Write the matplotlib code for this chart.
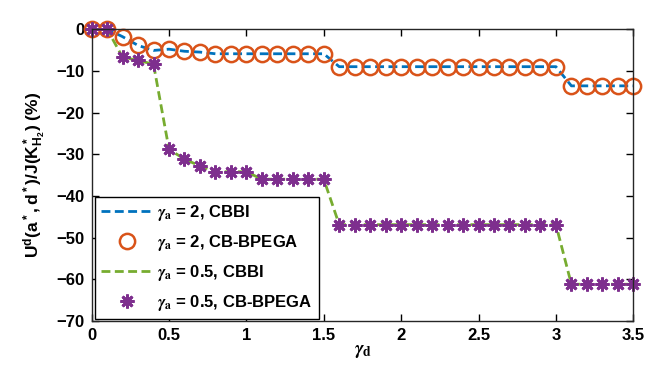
import matplotlib
matplotlib.use("Agg")
import matplotlib.pyplot as plt
import numpy as np

# gamma_d grid and utility-loss values
gamma_d = [0.0, 0.1, 0.2, 0.3, 0.4, 0.5, 0.6, 0.7, 0.8, 0.9, 1.0, 1.1,
           1.2, 1.3, 1.4, 1.5, 1.6, 1.7, 1.8, 1.9, 2.0, 2.1, 2.2, 2.3,
           2.4, 2.5, 2.6, 2.7, 2.8, 2.9, 3.0, 3.1, 3.2, 3.3, 3.4, 3.5]

loss_ga2 = [0.0, 0.0, -1.8, -3.9, -5.1, -4.8, -5.3, -5.5, -5.9, -5.9,
            -5.9, -5.9, -5.9, -5.9, -5.9, -5.9, -9.0, -9.0, -9.0, -9.0,
            -9.0, -9.0, -9.0, -9.0, -9.0, -9.0, -9.0, -9.0, -9.0, -9.0,
            -9.0, -13.6, -13.6, -13.6, -13.6, -13.6]

loss_ga05 = [0.0, 0.0, -6.7, -7.5, -8.4, -28.8, -31.2, -32.8, -34.2, -34.2,
             -34.2, -36.0, -36.0, -36.0, -36.0, -36.0, -46.9, -46.9, -46.9, -46.9,
             -46.9, -46.9, -46.9, -46.9, -46.9, -46.9, -46.9, -46.9, -46.9, -46.9,
             -46.9, -61.2, -61.2, -61.2, -61.2, -61.2]

x_ticks = [0, 0.5, 1, 1.5, 2, 2.5, 3, 3.5]
y_ticks = [0, -10, -20, -30, -40, -50, -60, -70]

plt.rcParams["font.family"] = ["Liberation Sans", "DejaVu Sans"]
plt.rcParams["font.weight"] = "bold"
plt.rcParams["mathtext.fontset"] = "custom"
plt.rcParams["mathtext.rm"] = "Liberation Sans:bold"
plt.rcParams["mathtext.bf"] = "Liberation Sans:bold"
plt.rcParams["mathtext.it"] = "Liberation Sans:bold"
plt.rcParams["mathtext.sf"] = "Liberation Sans:bold"

BLUE = "#0072BD"
ORANGE = "#D95319"
GREEN = "#77AC30"
PURPLE = "#7E2F8E"

fig = plt.figure(figsize=(6.59, 3.89), dpi=100)
ax = fig.add_axes([0.139, 0.175, 0.822, 0.750])

ax.plot(gamma_d, loss_ga2, linestyle="--", dashes=(3.2, 1.6), linewidth=2,
        color=BLUE, label=r"$\gamma_{\mathsf{a}}$ = 2, CBBI")
ax.plot(gamma_d, loss_ga2, linestyle="none", marker="o", markersize=11,
        markerfacecolor="none", markeredgecolor=ORANGE, markeredgewidth=1.8,
        clip_on=False, label=r"$\gamma_{\mathsf{a}}$ = 2, CB-BPEGA")
ax.plot(gamma_d, loss_ga05, linestyle="--", dashes=(3.2, 1.6), linewidth=2,
        color=GREEN, label=r"$\gamma_{\mathsf{a}}$ = 0.5, CBBI")
ax.plot(gamma_d, loss_ga05, linestyle="none", marker=(8, 2, 0), markersize=10,
        markeredgecolor=PURPLE, markeredgewidth=2, clip_on=False,
        label=r"$\gamma_{\mathsf{a}}$ = 0.5, CB-BPEGA")

ax.set_xlim(0, 3.5)
ax.set_ylim(-70, 0)
ax.set_xticks(x_ticks)
ax.set_xticklabels([f"{t:g}" for t in x_ticks])
ax.set_yticks(y_ticks)
ax.tick_params(direction="in", top=True, right=True, labelsize=12,
               length=5, width=1, pad=5)
for s in ax.spines.values():
    s.set_linewidth(1)
    s.set_color("#262626")

ax.set_xlabel(r"$\gamma_{\mathsf{d}}$", fontsize=14, labelpad=0, math_fontfamily="stix")
ax.set_ylabel(r"$\mathsf{U^d(a^*,d^*)/J(K^*_{H_2})\ (\%)}$", fontsize=12.5, labelpad=6)

leg = ax.legend(loc="lower left", bbox_to_anchor=(0.006, 0.008), fontsize=12,
                handlelength=3.2, handletextpad=0.2, labelspacing=0.6,
                borderpad=0.35, fancybox=False, framealpha=1, edgecolor="black",
                borderaxespad=0)
leg.get_frame().set_linewidth(1)
leg.set_zorder(5)
for t in leg.get_texts():
    t.set_math_fontfamily("stix")

fig.savefig("out.png", dpi=100)
